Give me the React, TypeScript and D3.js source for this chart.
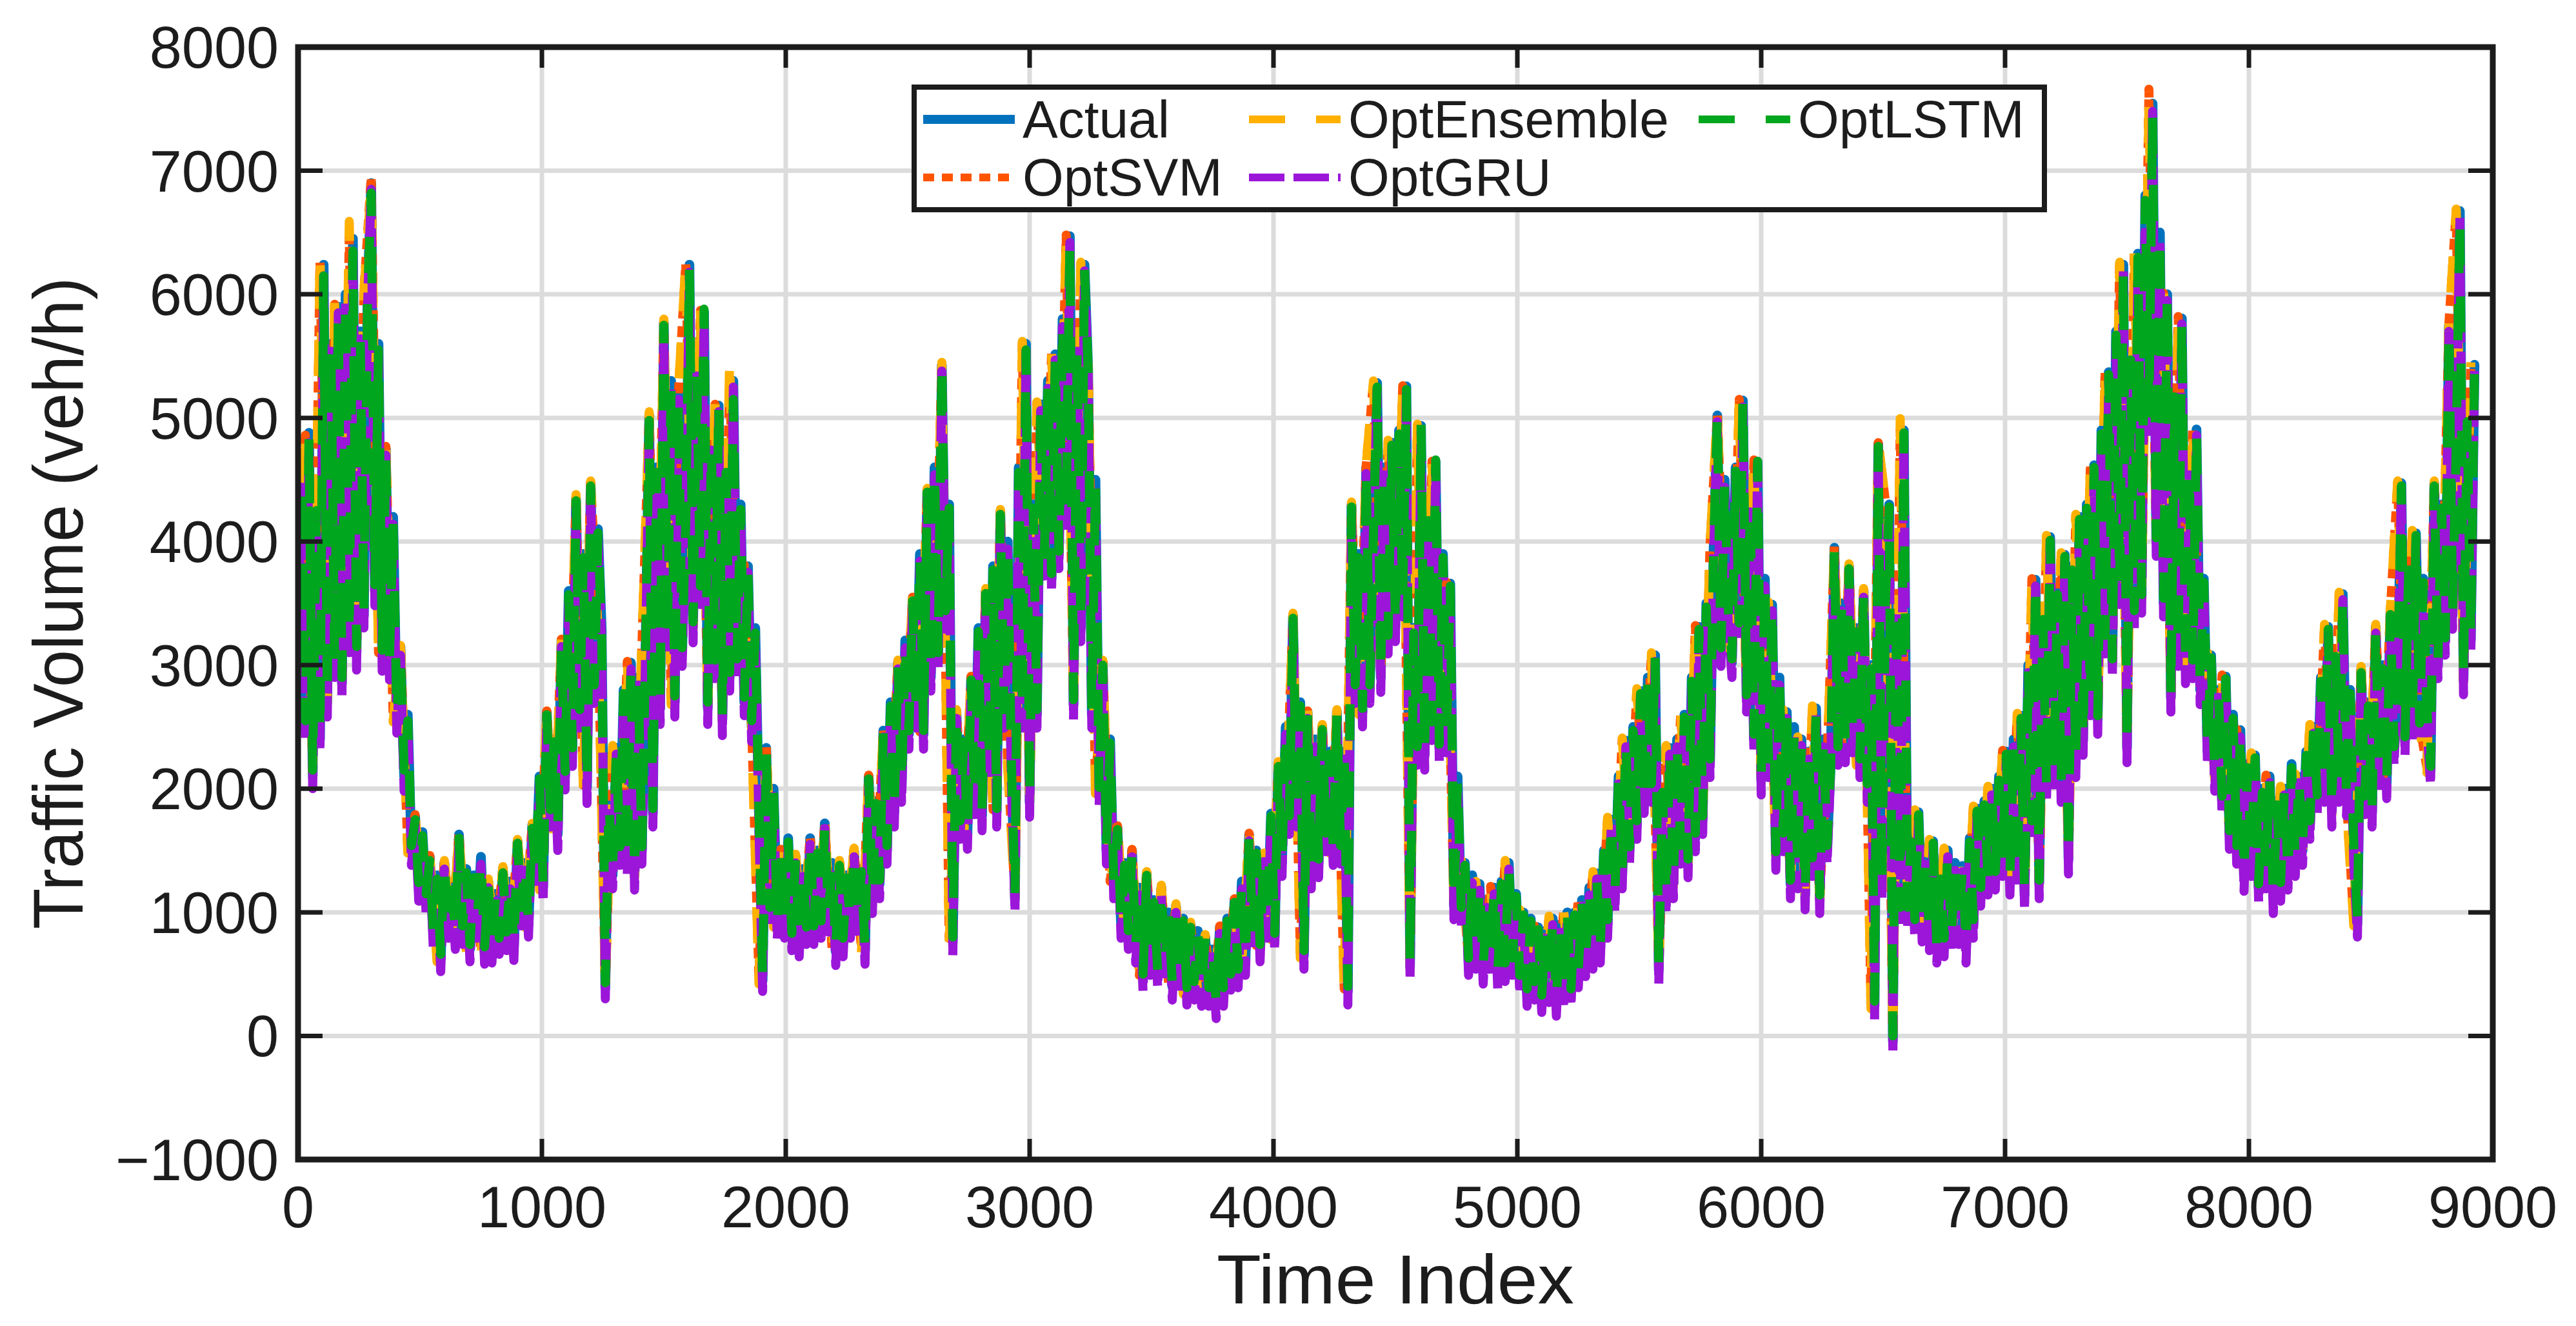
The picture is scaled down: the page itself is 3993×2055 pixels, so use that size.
import React from "react";
import * as d3 from "d3";

// ---------- data ----------
// Actual, OptGRU and OptLSTM: one sample every 15 time steps
const denseStep = 15;
// OptSVM and OptEnsemble: one sample every 30 time steps
const coarseStep = 30;

const actual = [
  3400,4500,2500,4880, 2100,4300,2400,6240, 2700,5600,3000,5900, 2850,6000,3200,6450, 3100,5700,3400,6000,
  6900,3600,5600,3080, 4750,3000,4200,2560, 3150,2100,2600,1500, 1780,1200,1650,1110, 1450,800,1300,620,
  1400,900,1200,820, 1630,850,1350,700, 1300,900,1450,680, 1250,700,1150,760, 1350,800,1250,710,
  1575,1000,1400,900, 1700,1300,2100,1200, 2620,1800,2400,1630, 3200,2100,3600,2300, 4350,2600,3900,2010,
  4470,2800,4100,3300, 390,1900,1300,2330, 1500,2800,1400,3020, 1300,2900,1500,3140, 5020,1800,4600,2650,
  5775,3200,5300,2700, 5200,3100,4200,6240, 3310,5400,3600,5860, 2650,4800,3000,5100, 2560,4600,2900,5300,
  3000,4300,2700,3800, 2500,3300,1800,447, 2330,1000,2000,900, 1500,900,1600,800, 1450,750,1350,850,
  1600,850,1500,900, 1720,950,1400,680, 1400,750,1300,900, 1500,900,1350,690, 2100,1100,1900,1230,
  2470,1500,2700,1810, 3020,2000,3200,2440, 3545,2600,3900,2440, 4410,2900,4600,3080, 5430,3400,4300,765,
  2620,1700,2400,1630, 2900,1900,3300,1780, 3600,2200,3800,1810, 4240,2600,4000,2200, 1110,4600,2600,5600,
  1890,4300,2600,5110, 3835,5300,3700,5515, 3900,5800,4200,6470, 2680,5600,3300,6240, 5400,2600,4500,1980,
  3020,1500,2400,1230, 1690,900,1400,820, 1500,700,1200,475, 1315,600,1100,500, 1200,550,1000,400,
  1055,450,950,360, 900,400,850,350, 800,350,700,245, 880,350,950,475, 1100,500,1250,600,
  1630,800,1500,710, 1460,900,1800,800, 2200,1400,2500,1750, 3400,1800,2700,650, 2620,1300,2400,1400,
  2500,1600,2300,1500, 2620,1500,2300,360, 4300,2800,3900,2620, 4600,2800,4100,5283, 2900,4600,3200,4800,
  3310,4900,3500,5255, 560,3300,2300,4936, 2270,4200,2500,4646, 2330,3900,2400,3660, 1055,2100,1000,1400,
  600,1300,650,1230, 530,1100,600,1200, 475,1250,550,1400, 600,1150,450,1000, 350,950,400,880,
  300,850,380,950, 270,900,330,1000, 350,1000,500,1100, 590,1200,650,1315, 700,1500,900,1750,
  1110,2100,1300,2390, 1500,2500,1700,2790, 1920,2900,2000,3080, 530,2000,1100,2330, 1230,2400,1500,2600,
  1400,2900,1600,3310, 1750,3500,2200,3950, 5020,3100,4500,3430, 3020,4600,3300,5140, 2735,4300,2400,4646,
  2068,3700,2200,3490, 1460,2900,1600,2620, 1230,2500,1300,2400, 1140,2300,1400,2650, 1110,2400,1500,2200,
  3950,2300,3500,2330, 3800,2400,3300,2210, 3600,2000,3000,245, 4790,1200,3600,4300, -46,3500,1000,4900,
  1000,1600,900,1810, 880,1450,800,1575, 710,1300,750,1500, 800,1400,850,1375, 710,1600,900,1840,
  1170,1900,1250,2000, 1300,2100,1400,2300, 1257,2400,1300,2590, 1140,3000,1700,3690, 1230,3400,2000,4036,
  2150,3600,2000,3893, 1430,3800,2200,4200, 2390,4300,2700,4617, 2560,4900,3200,5370, 3020,5700,3600,6240,
  2330,5500,3400,6330, 3545,6800,5000,7543, 4000,6500,3500,6000, 2735,5200,3100,5805, 2966,4600,3000,4907,
  2800,3700,2300,3080, 2097,2800,1900,2908, 1634,2600,1500,2474, 1286,2200,1400,2270, 1200,2000,1300,2100,
  1110,1900,1200,2000, 1300,2200,1400,2097, 1500,2300,1700,2500, 1920,2900,2000,3310, 1810,3100,2000,3575,
  1900,2800,1500,910, 2966,1900,2700,1810, 3310,2100,3000,2040, 3430,2300,2900,4472, 2390,3800,2500,4067,
  2500,3700,2600,2150, 4472,3000,4300,3197, 5747,3400,4800,6674, 2880,5000,3200,5430,
];

const optLSTM = [
  3450,4450,2550,4840, 2150,4250,2450,6150, 2750,5550,3050,5850, 2900,5950,3250,6350, 3150,5650,3450,5950,
  6820,3650,5550,3120, 4700,3050,4150,2600, 3100,2150,2550,1540, 1750,1240,1620,1150, 1420,840,1270,660,
  1380,940,1180,860, 1600,890,1320,740, 1280,940,1420,720, 1230,740,1130,790, 1320,840,1230,740,
  1560,1040,1380,930, 1680,1340,2080,1230, 2600,1830,2380,1660, 3160,2140,3570,2330, 4330,2640,3870,2050,
  4450,2840,4070,3260, 430,1870,1330,2300, 1530,2770,1430,3000, 1330,2870,1530,3100, 4980,1840,4560,2700,
  5750,3240,5260,2750, 5150,3140,4170,6200, 3350,5360,3640,5880, 2700,4760,3040,5120, 2600,4560,2940,5150,
  3050,4260,2740,3750, 2550,3260,1840,480, 2300,1040,1970,930, 1480,940,1570,830, 1430,790,1320,880,
  1580,890,1480,930, 1700,990,1380,710, 1380,790,1280,930, 1480,940,1330,720, 2080,1140,1880,1260,
  2450,1540,2670,1840, 3000,2040,3170,2470, 3520,2640,3870,2470, 4400,2940,4570,3100, 5450,3440,4270,800,
  2600,1740,2380,1660, 2880,1940,3270,1810, 3580,2240,3770,1840, 4220,2640,3970,2230, 1150,4560,2640,5550,
  1930,4270,2640,5100, 3850,5260,3740,5480, 3920,5760,4240,6400, 2720,5560,3340,6200, 5380,2640,4470,2010,
  3000,1540,2370,1260, 1670,940,1380,850, 1480,740,1180,500, 1300,640,1080,530, 1180,590,980,430,
  1040,490,930,390, 880,440,830,380, 790,390,690,280, 860,390,930,500, 1080,540,1230,630,
  1610,840,1480,740, 1440,940,1780,830, 2180,1440,2470,1780, 3380,1840,2670,690, 2600,1340,2380,1430,
  2480,1640,2280,1530, 2600,1540,2280,400, 4280,2840,3870,2650, 4580,2840,4070,5250, 2930,4560,3240,4780,
  3340,4870,3540,5230, 600,3260,2340,4950, 2300,4170,2540,4660, 2360,3870,2440,3640, 1090,2070,1040,1380,
  630,1270,690,1210, 560,1080,640,1180, 510,1230,590,1380, 630,1130,490,980, 380,930,440,860,
  330,830,420,930, 300,880,370,980, 380,980,540,1080, 620,1180,690,1300, 730,1480,940,1730,
  1140,2080,1340,2370, 1530,2470,1740,2770, 1950,2870,2040,3060, 570,1970,1140,2310, 1260,2370,1540,2580,
  1430,2870,1640,3290, 1780,3470,2240,3930, 5030,3140,4470,3450, 3050,4570,3340,5150, 2760,4270,2440,4650,
  2100,3670,2240,3470, 1490,2870,1640,2600, 1260,2470,1340,2380, 1170,2270,1440,2630, 1140,2370,1540,2180,
  3930,2340,3470,2360, 3780,2440,3270,2240, 3580,2040,2970,280, 4770,1240,3570,4280, 0,3470,1040,4880,
  1040,1570,940,1790, 910,1420,840,1560, 740,1270,790,1480, 830,1370,890,1360, 740,1570,940,1820,
  1200,1870,1290,1980, 1330,2070,1440,2280, 1290,2370,1340,2570, 1170,2970,1740,3670, 1260,3370,2040,4010,
  2180,3570,2040,3880, 1460,3770,2240,4180, 2420,4270,2740,4600, 2590,4870,3240,5350, 3050,5670,3640,6200,
  2360,5470,3440,6300, 3570,6760,5040,7450, 4030,6470,3540,5980, 2760,5170,3140,5780, 2990,4570,3040,4890,
  2830,3670,2340,3060, 2130,2770,1940,2890, 1660,2570,1540,2450, 1320,2170,1440,2250, 1230,1970,1340,2080,
  1140,1870,1240,1980, 1330,2170,1440,2080, 1530,2270,1740,2480, 1950,2870,2040,3290, 1840,3070,2040,3550,
  1930,2770,1540,950, 2940,1940,2670,1840, 3290,2140,2970,2070, 3410,2340,2870,4450, 2420,3770,2540,4050,
  2530,3670,2640,2180, 4450,3040,4270,3220, 5720,3440,4770,6620, 2910,4970,3240,5400,
];

const optGRU = [
  3300,4440,2400,4800, 2000,4240,2300,6150, 2580,5540,2900,5850, 2720,5940,3100,6380, 2960,5640,3300,5900,
  6850,3480,5540,2950, 4700,2880,4140,2450, 3080,1980,2540,1380, 1720,1090,1590,1000, 1400,690,1240,520,
  1350,790,1140,700, 1580,740,1290,600, 1250,790,1390,580, 1200,590,1090,660, 1300,690,1190,610,
  1520,890,1340,800, 1650,1190,2040,1080, 2560,1690,2340,1500, 3150,1990,3540,2180, 4300,2490,3840,1880,
  4420,2690,4040,3200, 300,1840,1190,2280, 1380,2740,1290,2970, 1180,2840,1390,3080, 4950,1690,4540,2520,
  5720,3090,5240,2580, 5150,2990,4140,6180, 3180,5340,3490,5800, 2520,4740,2890,5050, 2430,4540,2790,5250,
  2880,4240,2590,3750, 2380,3240,1690,360, 2280,890,1940,780, 1450,790,1540,690, 1400,640,1290,740,
  1550,740,1440,790, 1680,840,1340,570, 1350,640,1240,790, 1450,790,1290,580, 2050,990,1840,1110,
  2420,1390,2640,1690, 2970,1890,3140,2320, 3500,2490,3840,2320, 4360,2790,4540,2960, 5380,3290,4240,650,
  2570,1590,2340,1510, 2850,1790,3240,1660, 3550,2090,3740,1690, 4190,2490,3940,2080, 1000,4540,2490,5560,
  1770,4240,2490,5060, 3720,5240,3590,5470, 3780,5740,4090,6420, 2560,5540,3190,6190, 5350,2490,4440,1860,
  2970,1390,2340,1110, 1640,790,1340,700, 1450,590,1140,360, 1270,490,1040,390, 1150,440,940,290,
  1000,340,890,250, 850,290,790,240, 750,240,640,140, 830,240,890,370, 1050,390,1190,490,
  1580,690,1440,600, 1410,790,1740,690, 2150,1290,2440,1630, 3350,1690,2640,540, 2570,1190,2340,1280,
  2450,1490,2240,1380, 2570,1390,2240,250, 4250,2690,3840,2500, 4550,2690,4040,5240, 2780,4540,3090,4750,
  3190,4840,3390,5210, 450,3240,2190,4890, 2150,4140,2390,4600, 2210,3840,2290,3610, 940,2040,890,1350,
  490,1240,540,1180, 420,1040,490,1150, 360,1190,440,1350, 490,1090,340,950, 240,890,290,830,
  190,790,270,900, 160,840,220,950, 240,940,390,1050, 480,1140,540,1270, 590,1440,790,1700,
  1000,2040,1190,2340, 1380,2440,1590,2740, 1800,2840,1890,3030, 420,1940,990,2280, 1110,2340,1390,2550,
  1280,2840,1490,3260, 1630,3440,2090,3900, 4970,2990,4440,3310, 2900,4540,3190,5090, 2620,4240,2290,4600,
  1950,3640,2090,3440, 1340,2840,1490,2570, 1110,2440,1190,2350, 1020,2240,1290,2600, 990,2340,1390,2150,
  3900,2190,3440,2210, 3750,2290,3240,2090, 3550,1890,2940,130, 4740,1090,3540,4250, -150,3440,890,4850,
  880,1540,790,1760, 760,1390,690,1530, 590,1240,640,1450, 680,1340,740,1330, 590,1540,790,1790,
  1050,1840,1140,1950, 1180,2040,1290,2250, 1140,2340,1190,2540, 1020,2940,1590,3640, 1110,3340,1890,4060,
  2030,3540,1890,3840, 1310,3740,2090,4150, 2270,4240,2590,4570, 2440,4840,3090,5320, 2900,5640,3490,6190,
  2210,5440,3290,6280, 3420,6740,4890,7480, 3880,6440,3390,5950, 2620,5140,2990,5760, 2850,4540,2890,4860,
  2680,3640,2190,3030, 1980,2740,1790,2860, 1510,2540,1390,2420, 1170,2140,1290,2220, 1080,1940,1190,2050,
  990,1840,1090,1950, 1180,2140,1290,2050, 1380,2240,1590,2450, 1800,2840,1890,3260, 1690,3040,1890,3530,
  1780,2740,1390,800, 2920,1790,2640,1690, 3260,1990,2940,1920, 3380,2190,2840,4420, 2270,3740,2390,4020,
  2380,3640,2490,2030, 4420,2890,4240,3080, 5700,3290,4740,6630, 2760,4940,3090,5380,
];

const optSVM = [
  3420,4860,2120,6260,2720,5920,2870,6470,3120,6020,
  6950,3100,4770,2580,3170,1520,1790,1130,1460,640,
  1410,840,1640,720,1310,700,1260,780,1360,730,
  1580,920,1710,1220,2630,1650,3210,2320,4360,2030,
  4480,3310,410,2340,1520,3030,1320,3150,5030,2670,
  5790,2720,5210,6250,3330,5870,2670,5110,2580,5320,
  3020,3810,2520,470,2340,920,1510,820,1460,870,
  1610,920,1730,700,1410,920,1510,710,2110,1250,
  2480,1830,3030,2460,3550,2460,4420,3100,5440,790,
  2630,1650,2910,1800,3610,1830,4250,2220,1130,5610,
  1910,5120,3850,5520,3920,6480,2700,6250,5410,2000,
  3030,1250,1700,840,1510,490,1320,520,1210,420,
  1060,380,910,370,810,260,890,490,1110,620,
  1640,730,1470,820,2210,1770,3410,670,2630,1420,
  2510,1520,2630,380,4310,2640,4610,5290,2920,4810,
  3330,5260,580,4940,2290,4650,2350,3670,1070,1410,
  620,1240,550,1210,490,1410,620,1010,370,890,
  320,960,290,1010,370,1110,610,1320,720,1760,
  1130,2400,1520,2800,1940,3090,550,2340,1250,2610,
  1420,3320,1770,3960,5030,3450,3040,5150,2750,4660,
  2090,3500,1480,2630,1250,2410,1160,2660,1130,2210,
  3960,2350,3810,2230,3610,260,4800,4310,-30,4910,
  1020,1820,900,1580,730,1510,820,1380,730,1850,
  1190,2010,1320,2310,1270,2600,1160,3700,1250,4040,
  2170,3900,1450,4210,2410,4630,2580,5380,3040,6250,
  2350,6340,3560,7660,4020,6010,2750,5820,2980,4920,
  2820,3090,2110,2920,1650,2480,1300,2280,1220,2110,
  1130,2010,1320,2110,1520,2510,1940,3320,1830,3580,
  1920,930,2980,1830,3320,2060,3440,4480,2410,4080,
  2520,2170,4480,3210,5760,6680,2900,5440,
];

const optEnsemble = [
  3380,4900,2080,6330,2680,5950,2830,6590,3080,6020,
  6880,3060,4780,2540,3160,1480,1800,1090,1470,600,
  1420,800,1650,680,1320,660,1270,740,1370,690,
  1590,880,1720,1180,2640,1610,3220,2280,4380,1990,
  4490,3280,370,2350,1480,3040,1280,3160,5050,2630,
  5800,2680,5230,6260,3290,5880,2630,5120,2540,5480,
  2980,3820,2480,420,2350,880,1520,780,1470,830,
  1620,880,1740,660,1420,880,1520,670,2120,1210,
  2490,1790,3040,2420,3560,2420,4430,3060,5450,740,
  2640,1610,2920,1760,3620,1790,4260,2180,1090,5620,
  1870,5130,3810,5530,3880,6490,2660,6260,5420,1960,
  3040,1210,1710,800,1520,450,1330,480,1220,380,
  1070,340,920,330,820,220,900,450,1120,580,
  1650,690,1480,780,2220,1730,3420,630,2640,1380,
  2520,1480,2640,340,4320,2600,4620,5300,2880,4820,
  3290,5270,540,4950,2250,4660,2310,3680,1030,1420,
  580,1250,510,1220,450,1420,580,1020,330,900,
  280,970,250,1020,330,1120,570,1330,680,1770,
  1090,2410,1480,2810,1900,3100,510,2350,1210,2620,
  1380,3330,1730,3970,5040,3410,3000,5160,2710,4670,
  2050,3510,1440,2640,1210,2420,1120,2670,1090,2220,
  3970,2310,3820,2190,3620,220,4810,4320,-70,4994,
  980,1830,860,1590,690,1520,780,1390,690,1860,
  1150,2020,1280,2320,1230,2610,1120,3710,1210,4050,
  2130,3910,1410,4220,2370,4640,2540,5390,3000,6260,
  2310,6350,3520,7560,3980,6020,2710,5830,2940,4930,
  2780,3100,2070,2930,1610,2490,1260,2290,1180,2120,
  1090,2020,1280,2120,1480,2520,1900,3330,1790,3590,
  1880,890,2990,1790,3330,2020,3450,4490,2370,4090,
  2480,2130,4490,3180,5770,6690,2860,5450,
];

const xTicks = [0, 1000, 2000, 3000, 4000, 5000, 6000, 7000, 8000, 9000];
const yTicks = [-1000, 0, 1000, 2000, 3000, 4000, 5000, 6000, 7000, 8000];
const xTitle = "Time Index";
const yTitle = "Traffic Volume (veh/h)";

// drawing order (legend is column-major: Actual, OptSVM | OptEnsemble, OptGRU | OptLSTM)
const seriesNames = ["Actual", "OptSVM", "OptEnsemble", "OptGRU", "OptLSTM"];
const seriesData = [actual, optSVM, optEnsemble, optGRU, optLSTM];
const seriesStep = [denseStep, coarseStep, coarseStep, denseStep, denseStep];
const seriesColors = ["#0072BD", "#FF5400", "#FFB000", "#9B16D9", "#00A61E"];
const seriesDash = ["none", "17,12", "56,48", "55,14", "56,48"];
const seriesWidth = [15, 14, 14, 14, 14];
const legendWidth = [14, 12, 12, 12, 12];

// ---------- layout ----------
const W = 3993;
const H = 2055;
const L = 462;
const R = 3864;
const T = 73;
const B = 1797;
const FONT = "'Liberation Sans', Arial, Helvetica, sans-serif";
const INK = "#1c1c1c";

export default function App() {
  const x = d3.scaleLinear().domain([0, 9000]).range([L, R]);
  const y = d3.scaleLinear().domain([-1000, 8000]).range([B, T]);
  const makeLine = (step: number) =>
    d3
      .line<number>()
      .x((_, i) => x(i * step))
      .y((d) => y(d));

  // legend layout: [col,row]
  const legendPos: Record<string, [number, number]> = {
    Actual: [0, 0],
    OptEnsemble: [1, 0],
    OptLSTM: [2, 0],
    OptSVM: [0, 1],
    OptGRU: [1, 1],
  };
  const colLineX = [1431, 1936, 2633];
  const rowY = [185, 275];
  const lineLen = 142;

  return (
    <>
      <style>{`body{margin:0;background:#fff}`}</style>
      <svg width={W} height={H} viewBox={`0 0 ${W} ${H}`} style={{ display: "block" }}>
        <rect x={0} y={0} width={W} height={H} fill="#ffffff" />
        <defs>
          <clipPath id="plotClip">
            <rect x={L} y={T} width={R - L} height={B - T} />
          </clipPath>
        </defs>

        {/* grid */}
        <g stroke="#dcdcdc" strokeWidth={7}>
          {xTicks.slice(1, -1).map((t) => (
            <line key={"gx" + t} x1={x(t)} x2={x(t)} y1={T} y2={B} />
          ))}
          {yTicks.slice(1, -1).map((t) => (
            <line key={"gy" + t} x1={L} x2={R} y1={y(t)} y2={y(t)} />
          ))}
        </g>

        {/* series */}
        <g clipPath="url(#plotClip)" fill="none" strokeLinejoin="round">
          {seriesData.map((d, k) => (
            <path
              key={seriesNames[k]}
              d={makeLine(seriesStep[k])(d) || ""}
              stroke={seriesColors[k]}
              strokeWidth={seriesWidth[k]}
              strokeDasharray={seriesDash[k] === "none" ? undefined : seriesDash[k]}
              strokeLinecap={k === 0 ? "round" : "butt"}
            />
          ))}
        </g>

        {/* ticks */}
        <g stroke={INK} strokeWidth={7}>
          {xTicks.slice(1, -1).map((t) => (
            <g key={"tx" + t}>
              <line x1={x(t)} x2={x(t)} y1={B} y2={B - 32} />
              <line x1={x(t)} x2={x(t)} y1={T} y2={T + 32} />
            </g>
          ))}
          {yTicks.slice(1, -1).map((t) => (
            <g key={"ty" + t}>
              <line x1={L} x2={L + 38} y1={y(t)} y2={y(t)} />
              <line x1={R} x2={R - 38} y1={y(t)} y2={y(t)} />
            </g>
          ))}
        </g>

        {/* axes box */}
        <rect x={L} y={T} width={R - L} height={B - T} fill="none" stroke={INK} strokeWidth={9} />

        {/* tick labels */}
        <g fontFamily={FONT} fontSize={90} fill={INK}>
          {xTicks.map((t) => (
            <text key={"lx" + t} x={x(t)} y={1902} textAnchor="middle">
              {String(t)}
            </text>
          ))}
          {yTicks.map((t) => (
            <text key={"ly" + t} x={432} y={y(t) + 32} textAnchor="end">
              {t < 0 ? "\u2212" + String(-t) : String(t)}
            </text>
          ))}
        </g>

        {/* axis titles */}
        <text
          x={(L + R) / 2}
          y={2020}
          textAnchor="middle"
          fontFamily={FONT}
          fontSize={108}
          fill={INK}
          textLength={554}
          lengthAdjust="spacingAndGlyphs"
        >
          {xTitle}
        </text>
        <text
          transform={`translate(128,${(T + B) / 2}) rotate(-90)`}
          textAnchor="middle"
          fontFamily={FONT}
          fontSize={110}
          fill={INK}
          textLength={1010}
          lengthAdjust="spacingAndGlyphs"
        >
          {yTitle}
        </text>

        {/* legend */}
        <rect x={1417} y={135} width={1752} height={190} fill="#ffffff" stroke={INK} strokeWidth={8} />
        {seriesNames.map((name, k) => {
          const [c, r] = legendPos[name];
          const lx = colLineX[c];
          const ly = rowY[r];
          return (
            <g key={"lg" + name}>
              <line
                x1={lx}
                x2={lx + lineLen}
                y1={ly}
                y2={ly}
                stroke={seriesColors[k]}
                strokeWidth={legendWidth[k]}
                strokeDasharray={seriesDash[k] === "none" ? undefined : seriesDash[k]}
              />
              <text x={lx + lineLen + 12} y={ly + 28} fontFamily={FONT} fontSize={82} fill={INK}>
                {name}
              </text>
            </g>
          );
        })}
      </svg>
    </>
  );
}
